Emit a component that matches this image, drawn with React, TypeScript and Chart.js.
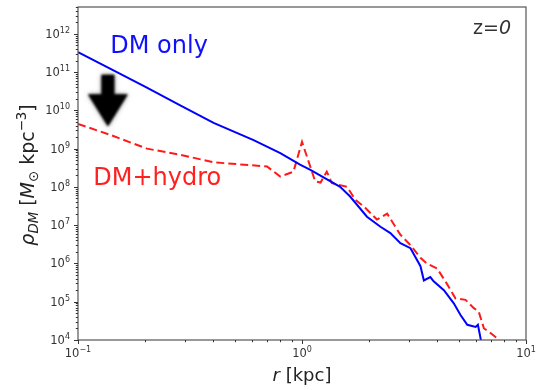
import React, { useEffect, useRef } from 'react';
import { Chart, registerables } from 'chart.js';

Chart.register(...registerables);

// ---- data ----
const dmOnlyR = [0.1, 0.144, 0.203, 0.286, 0.403, 0.608, 0.8, 0.98, 1.09, 1.48, 1.64, 1.95, 2.24, 2.48, 2.75, 3.05, 3.38, 3.5, 3.74, 3.87, 4.3, 4.76, 5.1, 5.47, 5.96, 6.1, 6.27, 6.45];
const dmOnlyRho = [3.3e11, 1.1e11, 3.9e10, 1.35e10, 4.7e9, 1.66e9, 7.6e8, 3.8e8, 2.8e8, 1.0e8, 5.6e7, 1.66e7, 9.1e6, 6.2e6, 3.4e6, 2.5e6, 8.5e5, 3.6e5, 4.4e5, 3.4e5, 2.0e5, 9.1e4, 4.5e4, 2.5e4, 2.2e4, 2.5e4, 1.1e4, 6.0e3];

const hydroR = [0.1, 0.139, 0.203, 0.286, 0.403, 0.698, 0.8, 0.916, 1.0, 1.145, 1.21, 1.29, 1.36, 1.59, 1.73, 1.92, 2.16, 2.4, 2.61, 2.75, 3.05, 3.38, 3.61, 4.01, 4.37, 4.84, 5.37, 5.85, 6.15, 6.49, 6.82, 7.45, 7.8];
const hydroRho = [4.4e9, 2.3e9, 1.0e9, 6.9e8, 4.4e8, 3.4e8, 1.86e8, 2.5e8, 1.5e9, 1.4e8, 1.3e8, 2.5e8, 1.26e8, 1.0e8, 4.6e7, 2.8e7, 1.4e7, 2.0e7, 9.1e6, 5.6e6, 3.0e6, 1.4e6, 1.0e6, 7.4e5, 3.4e5, 1.23e5, 1.12e5, 6.8e4, 5.5e4, 2.0e4, 1.66e4, 1.1e4, 8.0e3];

const xMajorTicks = [0.1, 1, 10];
const xTickExponents = ['\u22121', '0', '1'];
const yMajorTicks = [1e4, 1e5, 1e6, 1e7, 1e8, 1e9, 1e10, 1e11, 1e12];
const yTickExponents = ['4', '5', '6', '7', '8', '9', '10', '11', '12'];

const X_MIN = 0.1;
const X_MAX = 10;
const Y_MIN = 1e4;
const Y_MAX = Math.pow(10, 12.7);

// arrow annotation (data coordinates)
const arrowR = 0.136;
const arrowShaftTop = Math.pow(10, 10.93);
const arrowHeadTop = Math.pow(10, 10.42);
const arrowTip = Math.pow(10, 9.58);

const FONT = '"DejaVu Sans", sans-serif';
const TICK_COLOR = '#333333';

function minorTicks(lo: number, hi: number): number[] {
  const out: number[] = [];
  for (let e = Math.floor(Math.log10(lo)); e <= Math.ceil(Math.log10(hi)); e++) {
    for (let m = 2; m <= 9; m++) {
      const v = m * Math.pow(10, e);
      if (v > lo && v < hi) out.push(v);
    }
  }
  return out;
}

type Piece = { t: string; font: string; dy: number };

function drawPieces(ctx: CanvasRenderingContext2D, pieces: Piece[], x: number, y: number, align: 'left' | 'center' | 'right') {
  let w = 0;
  for (const p of pieces) { ctx.font = p.font; w += ctx.measureText(p.t).width; }
  let cx = align === 'left' ? x : align === 'center' ? x - w / 2 : x - w;
  ctx.textAlign = 'left';
  for (const p of pieces) {
    ctx.font = p.font;
    ctx.fillText(p.t, cx, y + p.dy);
    cx += ctx.measureText(p.t).width;
  }
}

const decorPlugin = {
  id: 'decor',
  afterDatasetsDraw(chart: any) {
    const ctx: CanvasRenderingContext2D = chart.ctx;
    const { left, right, top, bottom } = chart.chartArea;
    const xs = chart.scales.x;
    const ys = chart.scales.y;
    ctx.save();

    // frame
    ctx.strokeStyle = '#555555';
    ctx.lineWidth = 1.2;
    ctx.strokeRect(left, top, right - left, bottom - top);

    // ticks
    ctx.strokeStyle = TICK_COLOR;
    ctx.lineWidth = 1;
    ctx.beginPath();
    for (const v of xMajorTicks) {
      const px = Math.round(xs.getPixelForValue(v)) + 0.5;
      ctx.moveTo(px, bottom); ctx.lineTo(px, bottom + 4);
    }
    for (const v of minorTicks(X_MIN, X_MAX)) {
      const px = Math.round(xs.getPixelForValue(v)) + 0.5;
      ctx.moveTo(px, bottom); ctx.lineTo(px, bottom + 2.2);
    }
    for (const v of yMajorTicks) {
      const py = Math.round(ys.getPixelForValue(v)) + 0.5;
      ctx.moveTo(left, py); ctx.lineTo(left - 4, py);
    }
    for (const v of minorTicks(Y_MIN, Y_MAX)) {
      const py = Math.round(ys.getPixelForValue(v)) + 0.5;
      ctx.moveTo(left, py); ctx.lineTo(left - 2.2, py);
    }
    ctx.stroke();

    // tick labels
    ctx.fillStyle = TICK_COLOR;
    ctx.textBaseline = 'alphabetic';
    const base = `11.5px ${FONT}`;
    const sup = `8px ${FONT}`;
    xMajorTicks.forEach((v, i) => {
      const px = xs.getPixelForValue(v);
      drawPieces(ctx, [{ t: '10', font: base, dy: 0 }, { t: xTickExponents[i], font: sup, dy: -5 }], px, bottom + 17, 'center');
    });
    yMajorTicks.forEach((v, i) => {
      const py = ys.getPixelForValue(v);
      drawPieces(ctx, [{ t: '10', font: base, dy: 0 }, { t: yTickExponents[i], font: sup, dy: -5 }], left - 8, py + 4, 'right');
    });

    // axis titles
    ctx.fillStyle = '#222222';
    const tf = 18;
    drawPieces(ctx, [
      { t: 'r', font: `italic ${tf}px ${FONT}`, dy: 0 },
      { t: ' [kpc]', font: `${tf}px ${FONT}`, dy: 0 },
    ], (left + right) / 2, 381, 'center');

    const yf = 19;
    ctx.save();
    ctx.translate(34, 175);
    ctx.rotate(-Math.PI / 2);
    drawPieces(ctx, [
      { t: 'ρ', font: `italic ${yf}px ${FONT}`, dy: 0 },
      { t: 'DM', font: `italic ${yf * 0.7}px ${FONT}`, dy: 4 },
      { t: ' [', font: `${yf}px ${FONT}`, dy: 0 },
      { t: 'M', font: `italic ${yf}px ${FONT}`, dy: 0 },
      { t: '⊙', font: `${yf * 0.7}px ${FONT}`, dy: 4 },
      { t: ' kpc', font: `${yf}px ${FONT}`, dy: 0 },
      { t: '\u22123', font: `${yf * 0.7}px ${FONT}`, dy: -8 },
      { t: ']', font: `${yf}px ${FONT}`, dy: 0 },
    ], 0, 0, 'center');
    ctx.restore();

    // annotations
    ctx.fillStyle = '#1010ff';
    ctx.font = `24px ${FONT}`;
    ctx.textAlign = 'left';
    ctx.fillText('DM only', left + (right - left) * 0.072, top + 46);
    ctx.fillStyle = '#ff2020';
    ctx.fillText('DM+hydro', left + (right - left) * 0.034, top + 178);
    ctx.fillStyle = '#333333';
    drawPieces(ctx, [
      { t: 'z=', font: `19px ${FONT}`, dy: 0 },
      { t: '0', font: `italic 19px ${FONT}`, dy: 0 },
    ], right - 15, top + 27, 'right');

    // arrow
    const ax = xs.getPixelForValue(arrowR);
    const yShaft = ys.getPixelForValue(arrowShaftTop);
    const yHead = ys.getPixelForValue(arrowHeadTop);
    const yTip = ys.getPixelForValue(arrowTip);
    ctx.save();
    ctx.filter = 'blur(0.8px)';
    ctx.shadowColor = 'rgba(0,0,0,0.5)';
    ctx.shadowBlur = 4;
    ctx.fillStyle = '#000000';
    ctx.beginPath();
    ctx.moveTo(ax - 6.5, yShaft);
    ctx.lineTo(ax + 6.5, yShaft);
    ctx.lineTo(ax + 6.5, yHead);
    ctx.lineTo(ax + 20, yHead);
    ctx.lineTo(ax, yTip);
    ctx.lineTo(ax - 20, yHead);
    ctx.lineTo(ax - 6.5, yHead);
    ctx.closePath();
    ctx.fill();
    ctx.restore();

    ctx.restore();
  },
};

export default function App() {
  const ref = useRef<HTMLCanvasElement | null>(null);
  useEffect(() => {
    if (!ref.current) return;
    const chart = new Chart(ref.current, {
      type: 'line',
      data: {
        datasets: [
          {
            label: 'DM only',
            data: dmOnlyR.map((r, i) => ({ x: r, y: dmOnlyRho[i] })),
            borderColor: '#0000ff',
            borderWidth: 2,
            pointRadius: 0,
            tension: 0,
          },
          {
            label: 'DM+hydro',
            data: hydroR.map((r, i) => ({ x: r, y: hydroRho[i] })),
            borderColor: '#ff1a1a',
            borderWidth: 2,
            borderDash: [8, 4],
            pointRadius: 0,
            tension: 0,
          },
        ],
      },
      options: {
        animation: false,
        responsive: false,
        maintainAspectRatio: false,
        layout: { padding: { left: 0, right: 12, top: 7, bottom: 0 } },
        plugins: { legend: { display: false }, tooltip: { enabled: false } },
        scales: {
          x: {
            type: 'logarithmic',
            min: X_MIN,
            max: X_MAX,
            grid: { display: false },
            border: { display: false },
            ticks: { display: false },
            afterFit: (s: any) => { s.height = 50; },
          },
          y: {
            type: 'logarithmic',
            min: Y_MIN,
            max: Y_MAX,
            grid: { display: false },
            border: { display: false },
            ticks: { display: false },
            afterFit: (s: any) => { s.width = 78; },
          },
        },
      } as any,
      plugins: [decorPlugin],
    });
    return () => chart.destroy();
  }, []);
  return (
    <div style={{ position: 'absolute', left: 0, top: 0, width: 538, height: 390, background: '#ffffff' }}>
      <canvas ref={ref} width={538} height={390} style={{ width: 538, height: 390, display: 'block' }} />
    </div>
  );
}
